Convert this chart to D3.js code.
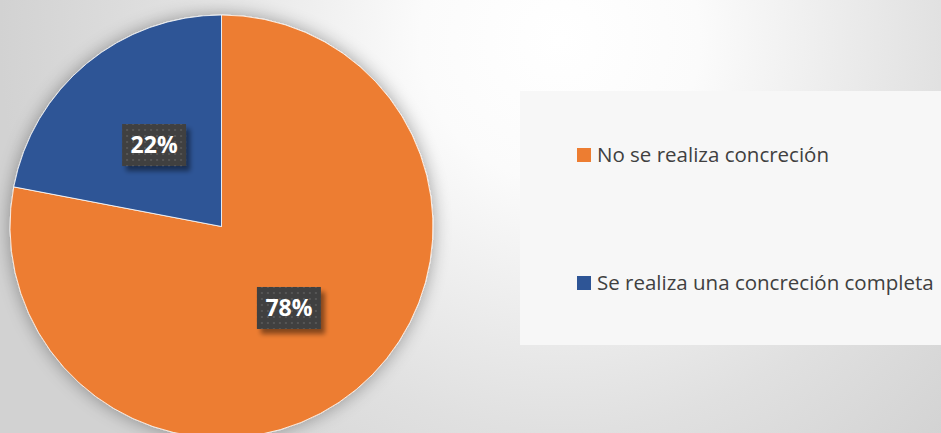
<!DOCTYPE html>
<html><head><meta charset="utf-8">
<script src="https://cdn.jsdelivr.net/npm/d3@7/dist/d3.min.js"></script>
<style>html,body{margin:0;padding:0;overflow:hidden;background:#fff}</style>
</head><body>
<script>
const categories = ["No se realiza concreción", "Se realiza una concreción completa"];
const values = [78, 22];
const labels = ["78%", "22%"];
const colors = ["#ED7D31", "#2E5596"];

const W = 941, H = 433;
const svg = d3.select("body").append("svg").attr("width", W).attr("height", H);
const defs = svg.append("defs");

const bg = defs.append("radialGradient").attr("id", "bg")
  .attr("gradientUnits", "userSpaceOnUse").attr("cx", 560).attr("cy", 40).attr("r", 560);
bg.append("stop").attr("offset", "0").attr("stop-color", "#ffffff");
bg.append("stop").attr("offset", "0.25").attr("stop-color", "#fbfbfb");
bg.append("stop").attr("offset", "0.7").attr("stop-color", "#e0e0e0");
bg.append("stop").attr("offset", "1").attr("stop-color", "#d2d2d2");

const sh = defs.append("filter").attr("id", "pieShadow").attr("x", "-20%").attr("y", "-20%").attr("width", "140%").attr("height", "140%");
sh.append("feGaussianBlur").attr("in", "SourceAlpha").attr("stdDeviation", 9).attr("result", "b");
sh.append("feComponentTransfer").attr("in", "b").attr("result", "c")
  .append("feFuncA").attr("type", "linear").attr("slope", 0.35);
const m = sh.append("feMerge");
m.append("feMergeNode").attr("in", "c");
m.append("feMergeNode").attr("in", "SourceGraphic");

const lsh = defs.append("filter").attr("id", "lblShadow").attr("x", "-30%").attr("y", "-30%").attr("width", "160%").attr("height", "160%");
lsh.append("feGaussianBlur").attr("in", "SourceAlpha").attr("stdDeviation", 2.5).attr("result", "b");
lsh.append("feOffset").attr("in", "b").attr("dx", 4).attr("dy", 5).attr("result", "o");
lsh.append("feComponentTransfer").attr("in", "o").attr("result", "c")
  .append("feFuncA").attr("type", "linear").attr("slope", 0.45);
const m2 = lsh.append("feMerge");
m2.append("feMergeNode").attr("in", "c");
m2.append("feMergeNode").attr("in", "SourceGraphic");

const pat = defs.append("pattern").attr("id", "dots").attr("patternUnits", "userSpaceOnUse")
  .attr("width", 6).attr("height", 6);
pat.append("rect").attr("width", 6).attr("height", 6).attr("fill", "#404040");
pat.append("rect").attr("x", 2).attr("y", 2).attr("width", 2).attr("height", 2).attr("fill", "#555555");

svg.append("rect").attr("width", W).attr("height", H).attr("fill", "url(#bg)");

const cx = 221.5, cy = 226.5, R = 211.5;
const pie = d3.pie().sort(null).value(d => d)(values);
const arc = d3.arc().innerRadius(0).outerRadius(R);
const g = svg.append("g").attr("transform", `translate(${cx},${cy})`);
g.append("g").attr("filter", "url(#pieShadow)")
  .selectAll("path").data(pie).join("path")
  .attr("d", arc).attr("fill", (d, i) => colors[i])
  .attr("stroke", "#ffffff").attr("stroke-width", 0.8);

const lblArc = d3.arc().innerRadius(R * 0.5).outerRadius(R * 0.5);
const bw = 64, bh = 42;
const lbl = g.selectAll("g.lbl").data(pie).join("g").attr("class", "lbl")
  .attr("transform", d => { const c = lblArc.centroid(d); return `translate(${c[0]},${c[1]})`; });
lbl.append("rect").attr("x", -bw / 2).attr("y", -bh / 2).attr("width", bw).attr("height", bh)
  .attr("fill", "url(#dots)").attr("filter", "url(#lblShadow)");
lbl.append("text").text((d, i) => labels[i])
  .attr("text-anchor", "middle").attr("dy", "0.36em")
  .attr("font-family", "'Open Sans', sans-serif").attr("font-weight", "bold")
  .attr("font-size", 23).attr("fill", "#ffffff");

// legend
svg.append("rect").attr("x", 520).attr("y", 91).attr("width", 421).attr("height", 254).attr("fill", "#f7f7f7");
const ly = d3.scalePoint().domain(categories).range([155, 283]);
const leg = svg.selectAll("g.leg").data(categories).join("g").attr("class", "leg")
  .attr("transform", d => `translate(577,${ly(d)})`);
leg.append("rect").attr("x", 0).attr("y", -7).attr("width", 14).attr("height", 14)
  .attr("fill", (d, i) => colors[i]);
leg.append("text").text(d => d).attr("x", 20).attr("dy", "0.36em")
  .attr("font-family", "'Open Sans', sans-serif").attr("font-size", 20.5).attr("fill", "#404040");
</script>
</body></html>
